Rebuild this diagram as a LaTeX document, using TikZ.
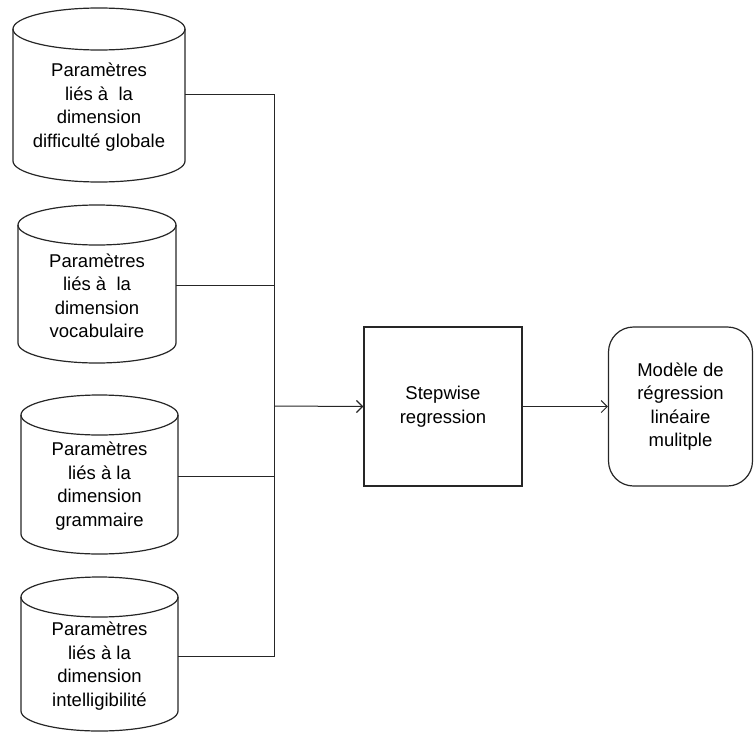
\documentclass[tikz,border=0pt]{standalone}
\usepackage{fontspec}
\setmainfont{Liberation Sans}
\usetikzlibrary{arrows.meta}
\tikzset{
  cylline/.style={line width=1.2pt, draw=black!85},
  conn/.style={line width=1pt, draw=black!85},
  arr/.style={conn, -{Straight Barb[length=6pt,width=12pt,line width=1.3pt]}},
  txt/.style={align=center, font=\fontsize{18.5}{23.5}\selectfont, text=black, inner sep=0pt},
  boxstyle/.style={line width=1.2pt, draw=black!85}
}
% \mycyl{name}{x1}{x2}{ytop}{ybot}{ry}
\newcommand{\mycyl}[6]{%
  \pgfmathsetmacro{\cx}{(#2+#3)/2}%
  \pgfmathsetmacro{\rx}{(#3-#2)/2}%
  \draw[cylline] (\cx,#4+#6) ellipse [x radius=\rx, y radius=#6];
  \draw[cylline] (#2,#4+#6) -- (#2,#5-#6) arc [start angle=180, end angle=0, x radius=\rx, y radius=#6] -- (#3,#4+#6);
}
\begin{document}
\begin{tikzpicture}[x=1pt,y=-1pt]
\useasboundingbox (0,0) rectangle (754,733);

\mycyl{c1}{13}{185}{8}{182}{21}
\mycyl{c2}{18}{176}{205}{363}{20}
\mycyl{c3}{21}{178}{395}{554}{20}
\mycyl{c4}{21}{178}{577}{731}{20}

\node[txt] (t1) at (99,107) {Paramètres\\liés à~~la\\dimension\\difficulté globale};
\node[txt] (t2) at (97,296) {Paramètres\\liés à~~la\\dimension\\vocabulaire};
\node[txt] (t3) at (99.5,486) {Paramètres\\liés à la\\dimension\\grammaire};
\node[txt] (t4) at (99.5,666) {Paramètres\\liés à la\\dimension\\intelligibilité};

\coordinate (o1) at (185,95);
\coordinate (o2) at (176,285);
\coordinate (o3) at (178,476);
\coordinate (o4) at (178,656);
\coordinate (j) at (274,406);

\node[boxstyle, minimum width=158pt, minimum height=159pt, inner sep=0pt] (sw) at (443,406.5) {};
\node[txt] (swt) at (sw.center) {Stepwise\\regression};

\node[boxstyle, rounded corners=25pt, minimum width=144pt, minimum height=159pt, inner sep=0pt] (md) at (680.5,406.5) {};
\node[txt] (mdt) at (md.center) {Modèle de\\régression\\linéaire\\mulitple};

\draw[conn] (o1) -- (274,95) -- (274,656) -- (o4);
\draw[conn] (o2) -- (274,285);
\draw[conn] (o3) -- (274,476);
\draw[arr] (j) -- (sw.west);
\draw[conn, -{Straight Barb[length=6pt,width=12pt,line width=1pt]}] (sw.east) -- (md.west);
\end{tikzpicture}
\end{document}
